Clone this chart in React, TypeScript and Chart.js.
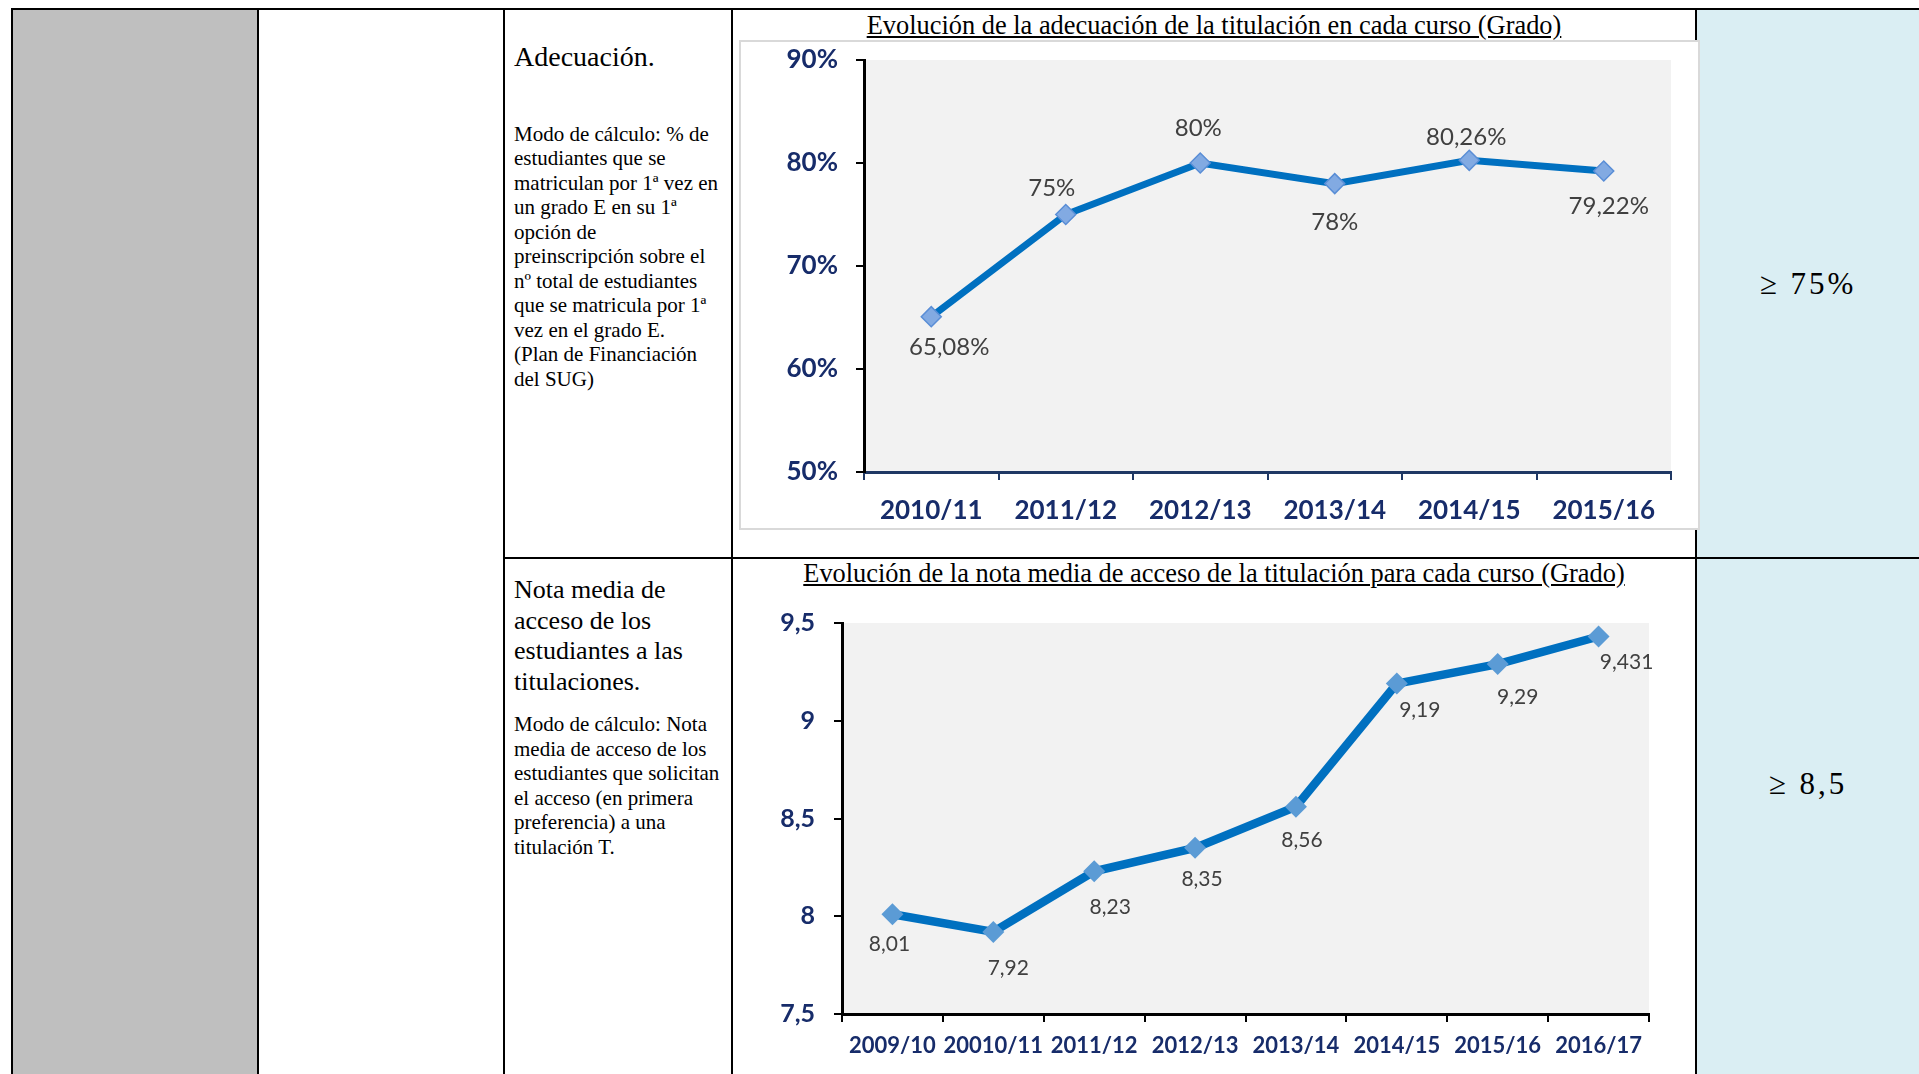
import React, { useEffect, useRef } from "react";
import { Chart, registerables } from "chart.js";

Chart.register(...registerables);

// ---------- DATA ----------
const adecCategories = ["2010/11", "2011/12", "2012/13", "2013/14", "2014/15", "2015/16"];
const adecValues = [65.08, 75, 80, 78, 80.26, 79.22];
const adecTickValues = [50, 60, 70, 80, 90];

const notaCategories = ["2009/10", "20010/11", "2011/12", "2012/13", "2013/14", "2014/15", "2015/16", "2016/17"];
const notaValues = [8.01, 7.92, 8.23, 8.35, 8.56, 9.19, 9.29, 9.431];
const notaTickValues = [7.5, 8, 8.5, 9, 9.5];

const adecTitle = "Evolución de la adecuación de la titulación en cada curso (Grado)";
const notaTitle = "Evolución de la nota media de acceso de la titulación para cada curso (Grado)";

// label placement relative to each point (style, not data)
const adecLabelOffsets = [[18, 31], [-14, -26], [-2, -35], [0, 39], [-3, -23], [5, 35]];
const notaLabelOffsets = [[-3, 30], [15, 36], [16, 36], [7, 31], [6, 33], [23, 27], [20, 33], [28, 26]];

const comma = (v: number) => String(v).replace(".", ",");

const NAVY = "#172C6A";
const LINE = "#0070C0";

function plotBg(color: string) {
  return {
    id: "plotBg",
    beforeDraw(chart: any) {
      const { ctx, chartArea } = chart;
      ctx.save();
      ctx.fillStyle = color;
      ctx.fillRect(chartArea.left, chartArea.top, chartArea.right - chartArea.left, chartArea.bottom - chartArea.top);
      ctx.restore();
    },
  };
}

function valueLabels(texts: string[], offsets: number[][], font: string, color: string) {
  return {
    id: "valueLabels",
    afterDatasetsDraw(chart: any) {
      const { ctx } = chart;
      const meta = chart.getDatasetMeta(0);
      ctx.save();
      ctx.font = font;
      ctx.fillStyle = color;
      ctx.textAlign = "center";
      ctx.textBaseline = "middle";
      meta.data.forEach((pt: any, i: number) => {
        ctx.fillText(texts[i], pt.x + offsets[i][0], pt.y + offsets[i][1]);
      });
      ctx.restore();
    },
  };
}

function ChartCanvas(props: { make: (c: HTMLCanvasElement) => Chart; style: React.CSSProperties; w: number; h: number }) {
  const ref = useRef<HTMLCanvasElement | null>(null);
  useEffect(() => {
    if (!ref.current) return;
    const ch = props.make(ref.current);
    return () => ch.destroy();
  }, []);
  return <canvas ref={ref} width={props.w} height={props.h} style={{ ...props.style, width: props.w, height: props.h }} />;
}

const fitY = (w: number) => (s: any) => { s.width = w; s.paddingTop = 0; s.paddingBottom = 0; };
const fitX = (h: number) => (s: any) => { s.height = h; s.paddingLeft = 0; s.paddingRight = 0; };

function makeAdec(canvas: HTMLCanvasElement) {
  return new Chart(canvas, {
    type: "line",
    data: {
      labels: adecCategories,
      datasets: [
        {
          data: adecValues,
          borderColor: LINE,
          borderWidth: 7,
          tension: 0,
          fill: false,
          pointStyle: "rectRot",
          pointRadius: 10,
          pointBackgroundColor: "#82AAE2",
          pointBorderColor: "#5A8ED6",
          pointBorderWidth: 1.5,
        },
      ],
    },
    options: {
      responsive: false,
      animation: false,
      events: [],
      layout: { padding: { top: 18, right: 27, left: 0, bottom: 0 } },
      plugins: { legend: { display: false }, tooltip: { enabled: false } },
      scales: {
        x: {
          type: "category",
          offset: true,
          afterFit: fitX(56),
          grid: { offset: true, drawOnChartArea: false, drawTicks: true, tickLength: 8, color: "#1F3864", lineWidth: 2 },
          border: { display: true, color: "#1F3864", width: 3 },
          ticks: { color: NAVY, font: { family: "Lato", size: 26, weight: "bold" }, padding: 15, maxRotation: 0, autoSkip: false },
        },
        y: {
          min: 50,
          max: 90,
          afterFit: fitY(123),
          afterBuildTicks: (s: any) => { s.ticks = adecTickValues.map((v) => ({ value: v })); },
          grid: { drawOnChartArea: false, drawTicks: true, tickLength: 8, color: "#000", lineWidth: 2 },
          border: { display: true, color: "#000", width: 3 },
          ticks: { color: NAVY, font: { family: "Lato", size: 26, weight: "bold" }, padding: 18, callback: (v: any) => v + "%" },
        },
      },
    } as any,
    plugins: [
      plotBg("#F2F2F2"),
      valueLabels(adecValues.map((v) => comma(v) + "%"), adecLabelOffsets, "24px Lato", "#404040"),
    ],
  });
}

function makeNota(canvas: HTMLCanvasElement) {
  return new Chart(canvas, {
    type: "line",
    data: {
      labels: notaCategories,
      datasets: [
        {
          data: notaValues,
          borderColor: LINE,
          borderWidth: 8.5,
          tension: 0,
          fill: false,
          pointStyle: "rectRot",
          pointRadius: 11,
          pointBackgroundColor: "#5B9BD5",
          pointBorderColor: "#5B9BD5",
          pointBorderWidth: 0,
        },
      ],
    },
    options: {
      responsive: false,
      animation: false,
      events: [],
      layout: { padding: { top: 33, right: 46, left: 0, bottom: 0 } },
      plugins: { legend: { display: false }, tooltip: { enabled: false } },
      scales: {
        x: {
          type: "category",
          offset: true,
          afterFit: fitX(60),
          grid: { offset: true, drawOnChartArea: false, drawTicks: true, tickLength: 8, color: "#000", lineWidth: 2 },
          border: { display: true, color: "#000", width: 3 },
          ticks: { color: NAVY, font: { family: "Lato", size: 22, weight: "bold" }, padding: 11, maxRotation: 0, autoSkip: false },
        },
        y: {
          min: 7.5,
          max: 9.5,
          afterFit: fitY(107),
          afterBuildTicks: (s: any) => { s.ticks = notaTickValues.map((v) => ({ value: v })); },
          grid: { drawOnChartArea: false, drawTicks: true, tickLength: 8, color: "#000", lineWidth: 2 },
          border: { display: true, color: "#000", width: 3 },
          ticks: { color: NAVY, font: { family: "Lato", size: 25, weight: "bold" }, padding: 19, callback: (v: any) => comma(v) },
        },
      },
    } as any,
    plugins: [
      plotBg("#F2F2F2"),
      valueLabels(notaValues.map((v) => comma(v)), notaLabelOffsets, "21px Lato", "#404040"),
    ],
  });
}

const box = (l: number, t: number, w: number, h: number, bg: string, z = 1): React.CSSProperties => ({
  position: "absolute", left: l, top: t, width: w, height: h, background: bg, zIndex: z,
});

const row1Body = [
  "Modo de cálculo: % de",
  "estudiantes que se",
  "matriculan por 1ª vez en",
  "un grado E en su 1ª",
  "opción de",
  "preinscripción sobre el",
  "nº total de estudiantes",
  "que se matricula por 1ª",
  "vez en el grado E.",
  "(Plan de Financiación",
  "del SUG)",
];
const row2Head = ["Nota media de", "acceso de los", "estudiantes a las", "titulaciones."];
const row2Body = [
  "Modo de cálculo: Nota",
  "media de acceso de los",
  "estudiantes que solicitan",
  "el acceso (en primera",
  "preferencia) a una",
  "titulación T.",
];

function Lines(props: { lines: string[]; left: number; top: number; size: number; lh: number }) {
  return (
    <div style={{ position: "absolute", left: props.left, top: props.top, fontSize: props.size, lineHeight: props.lh + "px", zIndex: 3, whiteSpace: "nowrap" }}>
      {props.lines.map((l, i) => (
        <div key={i}>{l}</div>
      ))}
    </div>
  );
}

export default function App() {
  const titleStyle = (cy: number): React.CSSProperties => ({
    position: "absolute", left: 733, width: 962, top: cy - 16, height: 32, lineHeight: "32px", textAlign: "center",
    fontSize: 26.4, textDecoration: "underline", zIndex: 3, whiteSpace: "nowrap",
  });
  const targetStyle = (cy: number): React.CSSProperties => ({
    position: "absolute", left: 1697, width: 222, top: cy - 20, height: 40, lineHeight: "40px", textAlign: "center",
    fontSize: 31, letterSpacing: 3, zIndex: 3,
  });
  return (
    <div style={{ position: "fixed", left: 0, top: 0, width: 1919, height: 1074, overflow: "hidden", background: "#fff", fontFamily: "'Liberation Serif', 'Times New Roman', serif", color: "#000" }}>
      {/* fills */}
      <div style={box(13, 10, 244, 1064, "#BFBFBF")} />
      <div style={box(1697, 10, 222, 1064, "#DAEEF3")} />
      {/* borders */}
      <div style={box(11, 8, 1908, 2, "#000", 2)} />
      <div style={box(11, 8, 2, 1066, "#000", 2)} />
      <div style={box(257, 8, 2, 1066, "#000", 2)} />
      <div style={box(503, 8, 2, 1066, "#000", 2)} />
      <div style={box(731, 8, 2, 1066, "#000", 2)} />
      <div style={box(1695, 8, 2, 1066, "#000", 2)} />
      <div style={box(503, 557, 1416, 2, "#000", 2)} />

      {/* row 1 text */}
      <Lines lines={["Adecuación."]} left={514} top={41} size={28} lh={32} />
      <Lines lines={row1Body} left={514} top={122} size={21} lh={24.45} />
      {/* row 2 text */}
      <Lines lines={row2Head} left={514} top={575} size={26} lh={30.6} />
      <Lines lines={row2Body} left={514} top={712} size={21} lh={24.5} />

      {/* right column */}
      <div style={targetStyle(284)}>≥ 75%</div>
      <div style={targetStyle(784)}>≥ 8,5</div>

      {/* chart titles */}
      <div style={titleStyle(25)}>{adecTitle}</div>
      <div style={titleStyle(573)}>{notaTitle}</div>

      {/* chart 1 frame */}
      <div style={{ position: "absolute", left: 739, top: 40, width: 961, height: 490, boxSizing: "border-box", border: "2px solid #D9D9D9", background: "#fff", zIndex: 4 }} />
      <ChartCanvas make={makeAdec} w={957} h={486} style={{ position: "absolute", left: 741, top: 42, zIndex: 5 }} />
      <ChartCanvas make={makeNota} w={960} h={484} style={{ position: "absolute", left: 735, top: 590, zIndex: 5 }} />
    </div>
  );
}
